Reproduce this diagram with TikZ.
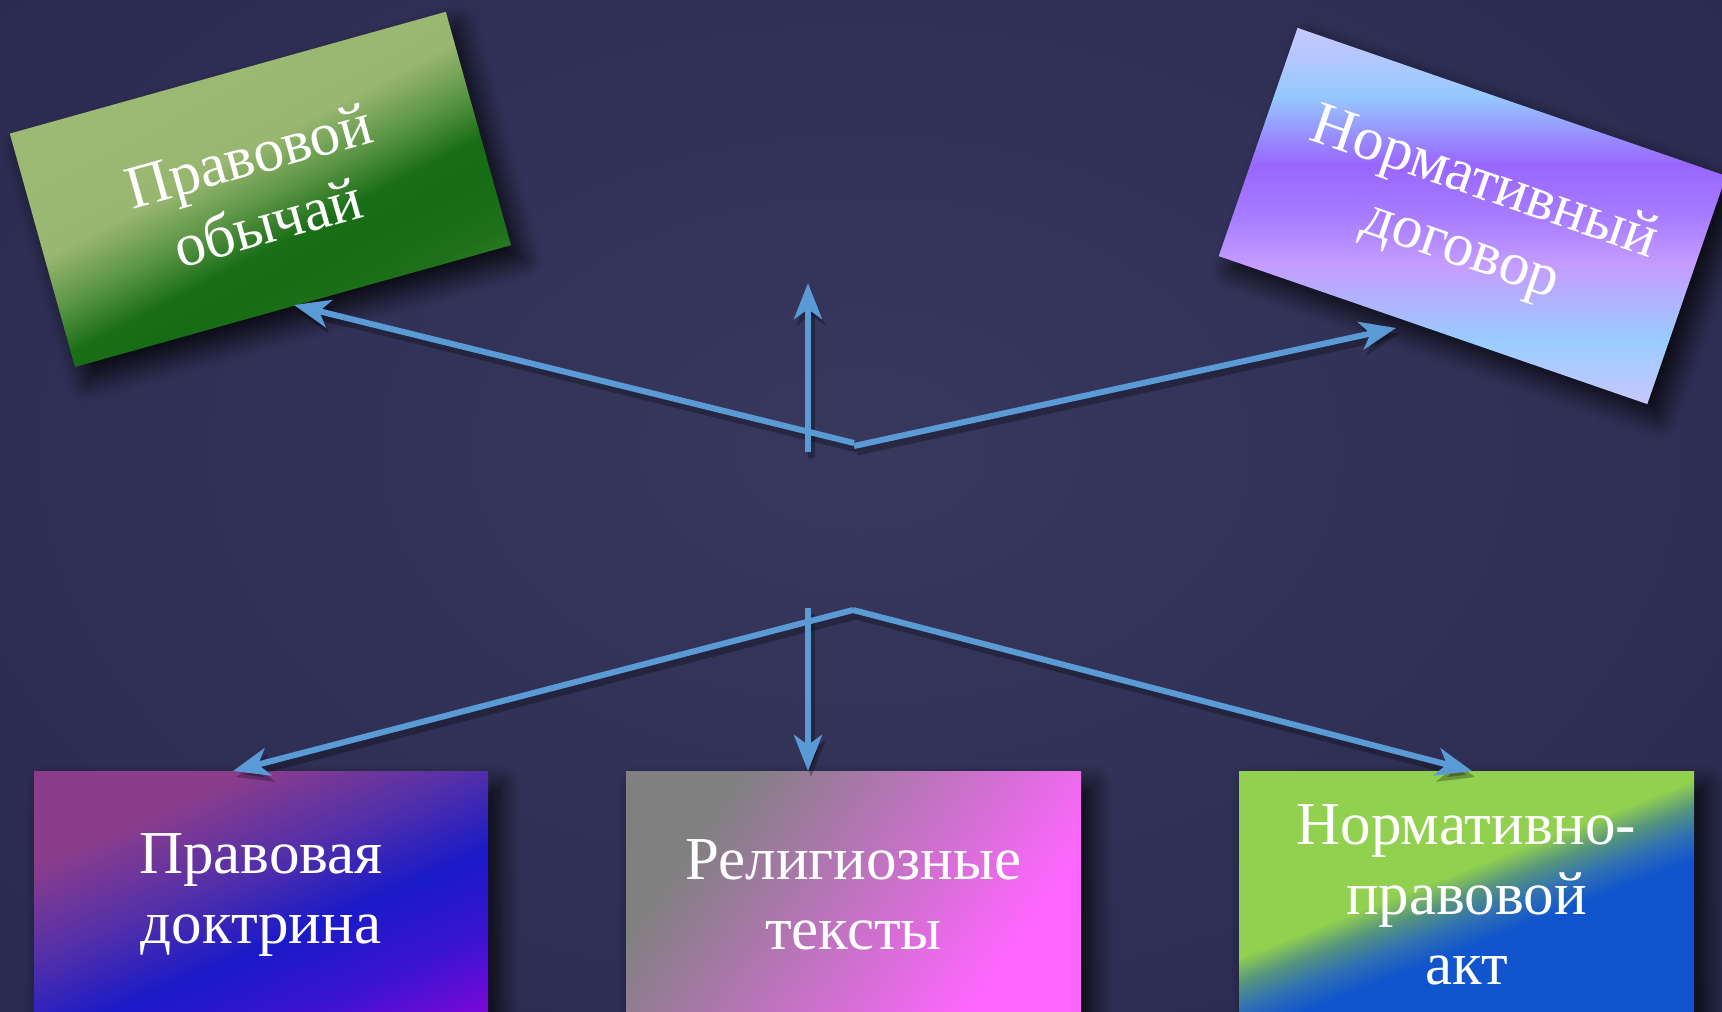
\documentclass[tikz,border=0pt]{standalone}
\usepackage{fontspec}
\setmainfont{Liberation Serif}
\usetikzlibrary{arrows.meta,shadows.blur}

\definecolor{bgIn}{HTML}{38385F}
\definecolor{bgOut}{HTML}{29294F}
\definecolor{arrowblue}{HTML}{5B9BD5}
% green box
\definecolor{gA}{HTML}{3A8430}
\definecolor{gB}{HTML}{1F701B}
\definecolor{gC}{HTML}{166C14}
\definecolor{gD}{HTML}{1A6E17}
\definecolor{gE}{HTML}{5A9445}
\definecolor{gF}{HTML}{9AB771}
\definecolor{gG}{HTML}{9EBB75}
% lavender box
\definecolor{lA}{HTML}{C8C8FF}
\definecolor{lB}{HTML}{99CCFF}
\definecolor{lC}{HTML}{C59CFF}
\definecolor{lD}{HTML}{A77CFF}
\definecolor{lE}{HTML}{9966FF}
\definecolor{lF}{HTML}{96C8FE}
% purple box
\definecolor{pA}{HTML}{7A08D8}
\definecolor{pB}{HTML}{3A14D0}
\definecolor{pC}{HTML}{1A1AC8}
\definecolor{pD}{HTML}{5530A8}
\definecolor{pE}{HTML}{8B3D8C}
% pink box
\definecolor{kA}{HTML}{FF66FF}
\definecolor{kB}{HTML}{808080}
% green-blue box
\definecolor{nA}{HTML}{1155CC}
\definecolor{nB}{HTML}{2F6FB4}
\definecolor{nD}{HTML}{55947E}
\definecolor{nC}{HTML}{92D050}

\pgfdeclareverticalshading{greenbox}{100bp}{color(0bp)=(gA); color(25bp)=(gA); color(32bp)=(gB); color(39bp)=(gC); color(43bp)=(gD); color(48.5bp)=(gE); color(55bp)=(gF); color(75bp)=(gG); color(100bp)=(gG)}
\pgfdeclareverticalshading{lavbox}{100bp}{color(0bp)=(lA); color(25bp)=(lA); color(33.5bp)=(lB); color(43.5bp)=(lC); color(50bp)=(lD); color(56.8bp)=(lE); color(66bp)=(lF); color(75bp)=(lA); color(100bp)=(lA)}
\pgfdeclareverticalshading{purpbox}{100bp}{color(0bp)=(pA); color(18bp)=(pA); color(30bp)=(pB); color(42bp)=(pC); color(55bp)=(pD); color(69bp)=(pE); color(100bp)=(pE)}
\pgfdeclareverticalshading{pinkbox}{100bp}{color(0bp)=(kA); color(28bp)=(kA); color(72bp)=(kB); color(100bp)=(kB)}
\pgfdeclareverticalshading{nprbox}{100bp}{color(0bp)=(nA); color(42bp)=(nA); color(46bp)=(nB); color(50bp)=(nD); color(54bp)=(nC); color(100bp)=(nC)}

\tikzset{
  boxtext/.style={text=white, font=\fontsize{30.5}{35}\selectfont, align=center, inner sep=0pt, outer sep=0pt},
  bshadow/.style={blur shadow={shadow xshift=6pt, shadow yshift=-7pt, shadow blur radius=10pt, shadow opacity=80, shadow blur steps=14}},
  tipA/.style={-{Stealth[length=18pt,width=14pt,inset=5pt]}},
  conn/.style={draw=arrowblue, line width=3pt, line cap=butt},
  lshadow/.style={draw=black, opacity=0.28, line width=3.5pt, line cap=butt, transform canvas={shift={(1.5pt,-3pt)}}}
}

\begin{document}
\begin{tikzpicture}[x=0.5pt,y=-0.5pt]
\useasboundingbox (0,0) rectangle (1722,1011);
\clip (0,0) rectangle (1722,1011);
% background
\fill[bgOut] (0,0) rectangle (1722,1011);
\shade[inner color=bgIn, outer color=bgOut] (-440,-400) rectangle (2160,1300);

% corners of the two tilted boxes
\coordinate (poA) at (9.8,133.6);
\coordinate (poB) at (445.8,11.8);
\coordinate (poC) at (511.0,245.2);
\coordinate (poD) at (75.0,367.0);
\coordinate (ndA) at (1297.5,27.9);
\coordinate (ndB) at (1726.1,175.9);
\coordinate (ndC) at (1647.3,404.1);
\coordinate (ndD) at (1218.7,256.1);

% tilted boxes
\shade[bshadow, shading=greenbox, shading angle=27.8] (poA) -- (poB) -- (poC) -- (poD) -- cycle;
\shade[bshadow, shading=lavbox] (ndA) -- (ndB) -- (ndC) -- (ndD) -- cycle;
\node[boxtext, rotate=15.6] (po) at (258,189) {Правовой\\обычай};
\node[boxtext, rotate=-19.06] (nd) at (1472,218) {Нормативный\\договор};

% bottom boxes
\node[boxtext, shade, shading=purpbox, shading angle=23.4, bshadow, minimum width=227pt, minimum height=124pt] (pd) at (261,895) {Правовая\\доктрина};
\node[boxtext, shade, shading=pinkbox, shading angle=55, bshadow, minimum width=227.5pt, minimum height=124pt] (rt) at (853.5,895) {Религиозные\\тексты};
\node[boxtext, shade, shading=nprbox, shading angle=21.3, bshadow, minimum width=227.5pt, minimum height=124pt] (npa) at (1466.5,895) {Нормативно-\\правовой\\акт};

% connector points
\coordinate (jtl) at (854,443);
\coordinate (jtr) at (854,446);
\coordinate (vt0) at (808,452);
\coordinate (vt1) at (808,283);
\coordinate (tpo) at (294,305);
\coordinate (tnd) at (1396,328);
\coordinate (jb) at (853,610);
\coordinate (vb0) at (808,608);
\coordinate (tpd) at (233,771);
\coordinate (trt) at (808,771);
\coordinate (tna) at (1472,771);

% shadows of connectors
\draw[lshadow, tipA] (jtl) -- (tpo);
\draw[lshadow, tipA] (jtr) -- (tnd);
\draw[lshadow, tipA] (vt0) -- (vt1);
\draw[lshadow, tipA] (jb) -- (tpd);
\draw[lshadow, tipA] (jb) -- (tna);
\draw[lshadow, tipA] (vb0) -- (trt);

% connectors
\draw[conn, tipA] (jtl) -- (tpo);
\draw[conn, tipA] (jtr) -- (tnd);
\draw[conn, tipA] (vt0) -- (vt1);
\draw[conn, tipA] (jb) -- (tpd);
\draw[conn, tipA] (jb) -- (tna);
\draw[conn, tipA] (vb0) -- (trt);
\end{tikzpicture}
\end{document}
